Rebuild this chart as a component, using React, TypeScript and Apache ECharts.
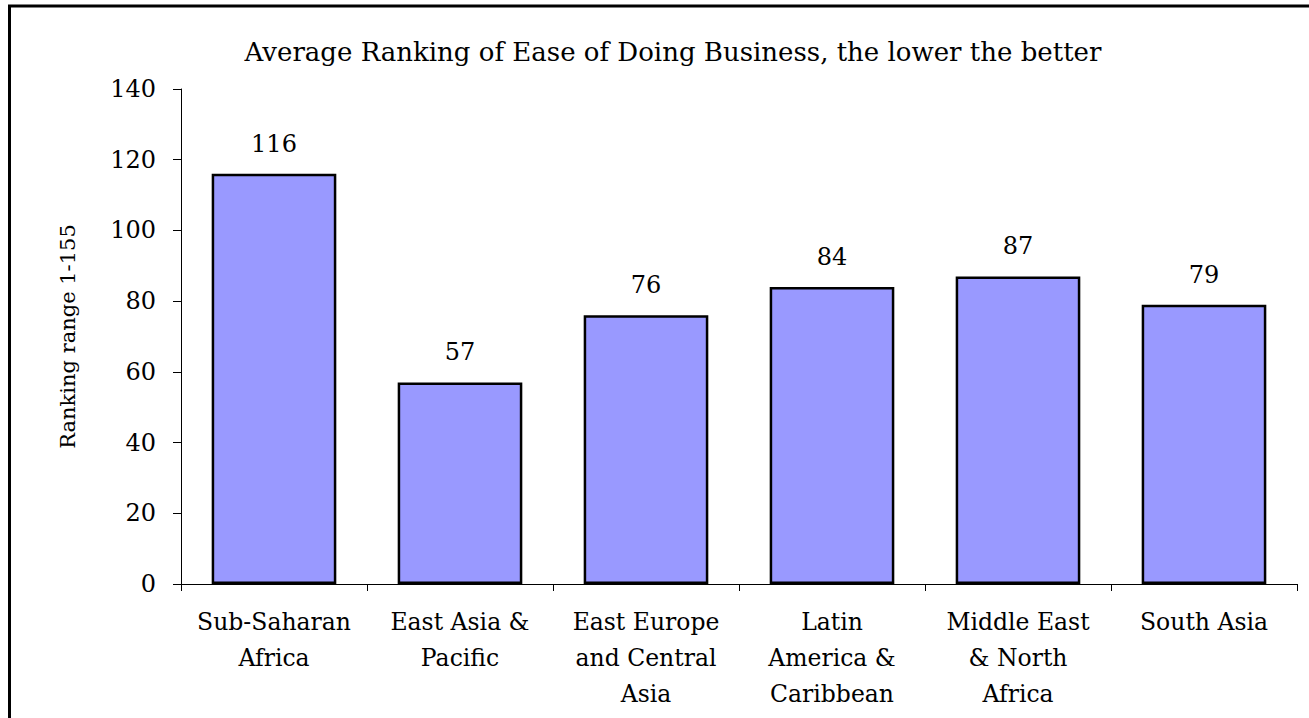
import React, { useEffect, useRef } from "react";
import * as echarts from "echarts";

const categories = [
  "Sub-Saharan\nAfrica",
  "East Asia &\nPacific",
  "East Europe\nand Central\nAsia",
  "Latin\nAmerica &\nCaribbean",
  "Middle East\n& North\nAfrica",
  "South Asia",
];
const values = [116, 57, 76, 84, 87, 79];
const titleText = "Average Ranking of Ease of Doing Business, the lower the better";
const yAxisName = "Ranking range 1-155";

export default function App() {
  const ref = useRef<HTMLDivElement>(null);
  useEffect(() => {
    if (!ref.current) return;
    const chart = echarts.init(ref.current, undefined, { renderer: "svg" });
    const font = "'DejaVu Serif', serif";
    chart.setOption({
      animation: false,
      backgroundColor: "#ffffff",
      textStyle: { fontFamily: font },
      title: {
        text: titleText,
        left: 668,
        textAlign: "center",
        top: 34,
        textStyle: { fontFamily: font, fontSize: 26, fontWeight: "normal", color: "#000" },
      },
      graphic: [
        {
          type: "rect",
          shape: { x: 9.5, y: 6, width: 1400, height: 800 },
          style: { fill: "none", stroke: "#000", lineWidth: 3 },
          silent: true,
        },
      ],
      grid: { left: 181, right: 12, top: 89, bottom: 134, containLabel: false },
      xAxis: {
        type: "category",
        data: categories,
        axisLine: { show: true, lineStyle: { color: "#000", width: 1 } },
        axisTick: { show: true, length: 7, alignWithLabel: false, lineStyle: { color: "#000" } },
        axisLabel: {
          interval: 0,
          color: "#000",
          fontFamily: font,
          fontSize: 23.5,
          lineHeight: 36,
          margin: 20,
        },
      },
      yAxis: {
        type: "value",
        min: 0,
        max: 140,
        interval: 20,
        name: yAxisName,
        nameLocation: "middle",
        nameGap: 103,
        nameRotate: 90,
        nameTextStyle: { fontFamily: font, fontSize: 21, color: "#000" },
        splitLine: { show: false },
        axisLine: { show: true, lineStyle: { color: "#000", width: 1 } },
        axisTick: { show: true, length: 8, inside: false, lineStyle: { color: "#000" } },
        axisLabel: { color: "#000", fontFamily: font, fontSize: 24, margin: 25 },
      },
      series: [
        {
          type: "bar",
          data: values,
          barCategoryGap: "33%",
          itemStyle: { color: "#9999ff", borderColor: "#000", borderWidth: 2.5 },
          label: {
            show: true,
            position: "top",
            distance: 18,
            color: "#000",
            fontFamily: font,
            fontSize: 24,
          },
        },
      ],
    });
    return () => chart.dispose();
  }, []);
  return (
    <div
      ref={ref}
      style={{ position: "absolute", left: 0, top: 0, width: 1309, height: 718 }}
    />
  );
}
